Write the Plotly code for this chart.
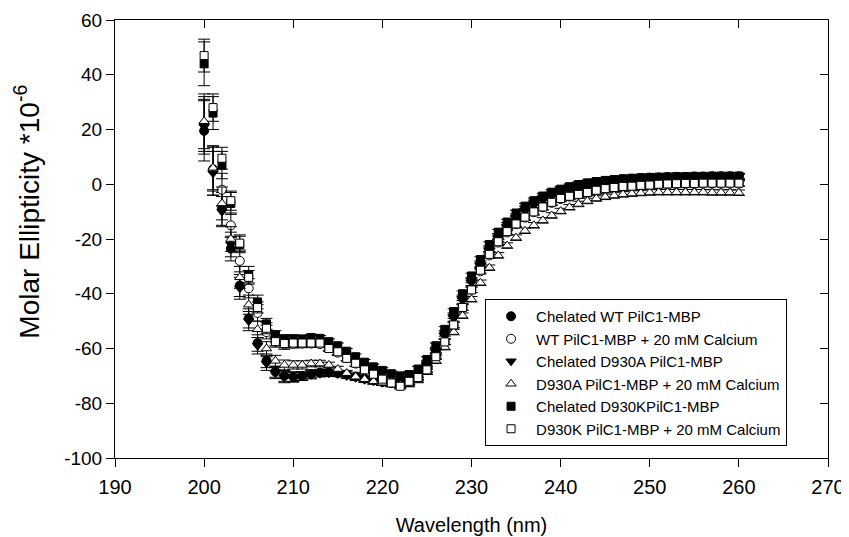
import plotly.graph_objects as go

wavelength = list(range(200, 261))

# Chelated WT PilC1-MBP (filled circle)
wt_chel = [19.5, 5.0, -9.0, -23.5, -37.0, -49.0, -58.0, -64.5, -68.5, -70.0,
           -70.3, -70.0, -69.3, -68.8, -68.7, -69.0, -69.5, -70.2, -71.0, -71.6,
           -72.2, -72.6, -72.8, -72.0, -69.5, -65.5, -60.5, -54.5, -48.0, -41.5,
           -35.0, -29.0, -23.5, -19.0, -15.0, -11.8, -9.0, -6.8, -5.0, -3.5,
           -2.3, -1.3, -0.5, 0.2, 0.7, 1.1, 1.5, 1.8, 2.0, 2.2,
           2.4, 2.5, 2.6, 2.7, 2.7, 2.8, 2.8, 2.9, 2.9, 2.9, 2.9]
wt_chel_err = [11, 9, 6, 4.5, 4, 3.5, 3, 2.5, 2, 2,
               1.8, 1.5, 1.5, 1.2, 1.2, 1, 1, 1, 1, 1,
               1, 1, 1, 1, 1, 1, 1, 1, 1, 1,
               1, 1, 1, 1, 1, 1, 1, 1, 1, 1,
               1, 1, 1, 1, 1, 1, 1, 1, 1, 1,
               1, 1, 1, 1, 1, 1, 1, 1, 1, 1, 1]

# WT PilC1-MBP + 20 mM Calcium (open circle)
wt_ca = [22.0, 5.5, -2.0, -15.0, -28.0, -38.0, -47.0, -54.0, -57.5, -58.5,
         -58.3, -58.2, -58.2, -58.4, -59.8, -61.5, -63.5, -65.5, -67.6, -69.3,
         -71.0, -72.4, -73.5, -72.2, -70.5, -67.5, -63.0, -57.5, -51.5, -45.0,
         -38.5, -31.8, -26.0, -21.3, -17.6, -14.6, -12.2, -10.2, -8.4, -6.8,
         -5.4, -4.5, -3.8, -3.1, -2.4, -1.8, -1.3, -1.0, -0.8, -0.6,
         -0.4, -0.2, -0.1, 0.0, 0.1, 0.1, 0.2, 0.2, 0.2, 0.2, 0.2]
wt_ca_err = [10, 8, 6, 4.5, 4, 3.5, 3, 2.5, 2, 1.8,
             1.5, 1.5, 1.2, 1.2, 1, 1, 1, 1, 1, 1,
             1, 1, 1, 1, 1, 1, 1, 1, 1, 1,
             1, 1, 1, 1, 1, 1, 1, 1, 1, 1,
             1, 1, 1, 1, 1, 1, 1, 1, 1, 1,
             1, 1, 1, 1, 1, 1, 1, 1, 1, 1, 1]

# Chelated D930A PilC1-MBP (filled triangle down)
a_chel = [21.0, 4.0, -10.0, -22.0, -38.0, -50.0, -59.0, -65.5, -69.0, -70.5,
          -70.5, -70.2, -69.6, -69.2, -69.0, -69.3, -70.0, -70.7, -71.4, -72.0,
          -72.5, -72.8, -73.0, -72.4, -70.2, -66.5, -61.5, -55.5, -49.0, -42.5,
          -36.0, -30.0, -24.5, -20.0, -16.0, -12.6, -9.8, -7.5, -5.6, -4.1,
          -2.9, -1.9, -1.0, -0.3, 0.3, 0.8, 1.2, 1.5, 1.8, 2.0,
          2.2, 2.3, 2.4, 2.5, 2.5, 2.6, 2.6, 2.7, 2.7, 2.7, 2.7]
a_chel_err = [10, 8, 5.5, 4.5, 4, 3.5, 3, 2.5, 2, 2,
              1.8, 1.5, 1.5, 1.2, 1.2, 1, 1, 1, 1, 1,
              1, 1, 1, 1, 1, 1, 1, 1, 1, 1,
              1, 1, 1, 1, 1, 1, 1, 1, 1, 1,
              1, 1, 1, 1, 1, 1, 1, 1, 1, 1,
              1, 1, 1, 1, 1, 1, 1, 1, 1, 1, 1]

# D930A PilC1-MBP + 20 mM Calcium (open triangle up)
a_ca = [23.0, 6.0, -7.0, -20.0, -34.0, -44.0, -53.0, -60.0, -64.5, -66.0,
        -66.0, -66.0, -65.5, -65.5, -66.0, -67.5, -69.0, -70.3, -71.2, -72.0,
        -72.5, -73.0, -73.3, -73.0, -71.5, -68.5, -64.5, -59.5, -54.0, -48.0,
        -42.0, -36.0, -30.5, -26.0, -22.4, -19.5, -17.0, -15.0, -13.2, -11.4,
        -9.8, -8.4, -7.2, -6.1, -5.2, -4.6, -4.1, -3.7, -3.4, -3.2,
        -3.0, -2.9, -2.9, -2.9, -2.9, -2.9, -2.9, -3.0, -3.0, -3.0, -3.1]
a_ca_err = [10, 8, 6, 4.5, 4, 3.5, 3, 2.5, 2, 1.8,
            1.5, 1.5, 1.2, 1.2, 1, 1, 1, 1, 1, 1,
            1, 1, 1, 1, 1, 1, 1, 1, 1, 1,
            1, 1, 1, 1, 1, 1, 1, 1, 1, 1,
            1, 1, 1, 1, 1, 1, 1, 1, 1, 1,
            1, 1, 1, 1, 1, 1, 1, 1, 1, 1, 1]

# Chelated D930KPilC1-MBP (filled square)
k_chel = [44.0, 26.0, 7.0, -7.0, -22.0, -33.0, -43.0, -51.0, -55.0, -56.5,
          -56.5, -56.5, -56.0, -56.3, -57.5, -59.0, -61.0, -63.0, -65.0, -66.7,
          -68.0, -69.2, -70.0, -69.5, -67.5, -64.0, -59.0, -53.0, -46.5, -40.0,
          -33.5, -27.5, -22.0, -17.5, -13.8, -10.5, -8.0, -6.0, -4.3, -2.9,
          -1.8, -0.9, -0.1, 0.5, 1.0, 1.4, 1.7, 2.0, 2.2, 2.4,
          2.5, 2.6, 2.7, 2.8, 2.8, 2.9, 2.9, 3.0, 3.0, 3.0, 3.0]
k_chel_err = [8, 6, 5, 4, 3, 3, 2.5, 2, 1.5, 1.5,
              1.5, 1.2, 1.2, 1, 1, 1, 1, 1, 1, 1,
              1, 1, 1, 1, 1, 1, 1, 1, 1, 1,
              1, 1, 1, 1, 1, 1, 1, 1, 1, 1,
              1, 1, 1, 1, 1, 1, 1, 1, 1, 1,
              1, 1, 1, 1, 1, 1, 1, 1, 1, 1, 1]

# D930K PilC1-MBP + 20 mM Calcium (open square)
k_ca = [47.0, 28.0, 9.5, -6.0, -21.5, -34.0, -45.0, -52.6, -57.5, -58.2,
        -58.0, -58.0, -58.0, -58.0, -60.0, -61.2, -63.6, -65.4, -67.8, -69.4,
        -71.2, -72.6, -73.8, -72.0, -70.6, -67.8, -63.0, -57.6, -51.4, -45.0,
        -38.6, -31.4, -25.6, -21.0, -17.3, -14.5, -12.0, -10.1, -8.3, -6.6,
        -5.2, -4.4, -3.7, -3.0, -2.2, -1.6, -1.2, -0.8, -0.7, -0.4,
        -0.3, 0.0, 0.1, 0.2, 0.3, 0.3, 0.4, 0.4, 0.4, 0.4, 0.4]
k_ca_err = [6, 5, 4, 3.5, 3, 2.5, 2, 2, 1.5, 1.5,
            1.2, 1.2, 1, 1, 1, 1, 1, 1, 1, 1,
            1, 1, 1, 1, 1, 1, 1, 1, 1, 1,
            1, 1, 1, 1, 1, 1, 1, 1, 1, 1,
            1, 1, 1, 1, 1, 1, 1, 1, 1, 1,
            1, 1, 1, 1, 1, 1, 1, 1, 1, 1, 1]

series_names = ["Chelated WT PilC1-MBP",
                "WT PilC1-MBP + 20 mM Calcium",
                "Chelated D930A PilC1-MBP",
                "D930A PilC1-MBP + 20 mM Calcium",
                "Chelated D930KPilC1-MBP",
                "D930K PilC1-MBP + 20 mM Calcium"]

x_ticks = [190, 200, 210, 220, 230, 240, 250, 260, 270]
x_tick_labels = ["190", "200", "210", "220", "230", "240", "250", "260", "270"]
y_ticks = [-100, -80, -60, -40, -20, 0, 20, 40, 60]
y_tick_labels = ["-100", "-80", "-60", "-40", "-20", "0", "20", "40", "60"]

FONT = "Liberation Sans, Arial, sans-serif"

styles = [
    ("circle", "black", 9),
    ("circle", "white", 9),
    ("triangle-down", "black", 9),
    ("triangle-up", "white", 9),
    ("square", "black", 8),
    ("square", "white", 8),
]
values = [wt_chel, wt_ca, a_chel, a_ca, k_chel, k_ca]
errors = [wt_chel_err, wt_ca_err, a_chel_err, a_ca_err, k_chel_err, k_ca_err]

fig = go.Figure()
for name, vals, errs, (sym, col, sz) in zip(series_names, values, errors, styles):
    fig.add_trace(go.Scatter(
        x=wavelength, y=vals, name=name, mode="markers",
        marker=dict(symbol=sym, color=col, size=sz,
                    line=dict(color="black", width=1)),
        error_y=dict(type="data", array=errs, visible=True,
                     color="black", thickness=1, width=6),
    ))

# mirrored axes for inward ticks on top/right
fig.add_trace(go.Scatter(x=[None], y=[None], xaxis="x2", yaxis="y2",
                         showlegend=False, hoverinfo="skip"))

axis_common = dict(showgrid=False, zeroline=False, showline=True,
                   linecolor="black", linewidth=1)

# page body has an 8px default margin, so the figure is 8px smaller
fig.update_layout(
    width=841, height=529,
    margin=dict(l=107, r=21, t=12, b=79, autoexpand=False),
    paper_bgcolor="white", plot_bgcolor="white",
    font=dict(family=FONT, color="black"),
    xaxis=dict(range=[190, 270], tickvals=x_ticks, ticktext=x_tick_labels,
               ticks="outside", ticklen=8, tickwidth=1, tickcolor="black",
               tickfont=dict(size=20, family=FONT), automargin=False,
               ticklabelstandoff=3, ticklabeloverflow="allow",
               title=dict(text="Wavelength (nm)", font=dict(size=20, family=FONT),
                          standoff=20),
               **axis_common),
    yaxis=dict(range=[-100, 60], tickvals=y_ticks, ticktext=y_tick_labels,
               ticks="outside", ticklen=8, tickwidth=1, tickcolor="black",
               tickfont=dict(size=19, family=FONT), automargin=False,
               ticklabeloverflow="allow",
               **axis_common),
    xaxis2=dict(range=[190, 270], tickvals=x_ticks, ticks="inside",
                ticklen=8, tickcolor="black", showticklabels=False,
                overlaying="x", side="top", anchor="y", automargin=False,
                **axis_common),
    yaxis2=dict(range=[-100, 60], tickvals=y_ticks, ticks="inside",
                ticklen=8, tickcolor="black", showticklabels=False,
                overlaying="y", side="right", anchor="x", automargin=False,
                **axis_common),
    legend=dict(x=0.519, y=0.363, xanchor="left", yanchor="top",
                bordercolor="black", borderwidth=1, bgcolor="white",
                font=dict(size=15, family=FONT), tracegroupgap=0,
                itemwidth=40),
    showlegend=True,
    annotations=[dict(text="Molar Ellipticity *10<sup>-6</sup>",
                      xref="paper", yref="paper", x=-0.1237, y=0.562,
                      xanchor="center", yanchor="middle", textangle=-90,
                      showarrow=False, font=dict(size=28, family=FONT))],
)

fig.write_html("out.html")
